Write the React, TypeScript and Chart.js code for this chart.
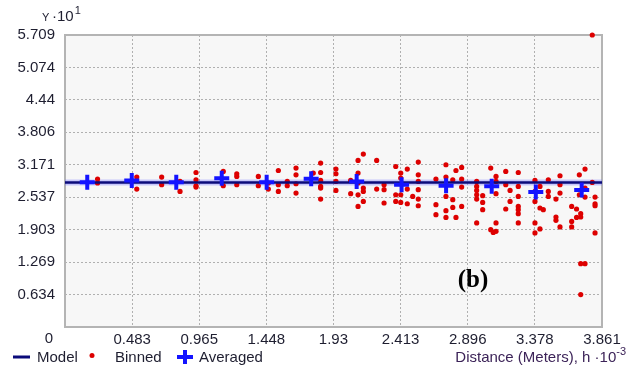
import React, { useEffect, useRef } from 'react';
import { Chart, registerables } from 'chart.js';

Chart.register(...registerables);

const xTicks = [0, 0.483, 0.965, 1.448, 1.93, 2.413, 2.896, 3.378, 3.861];
const yTicks = [0, 0.634, 1.269, 1.903, 2.537, 3.171, 3.806, 4.44, 5.074, 5.709];

const modelX = [0, 3.861];
const modelY = [2.825, 2.825];

const averagedX = [0.16, 0.48, 0.8, 1.127, 1.45, 1.77, 2.097, 2.42, 2.74, 3.068, 3.385, 3.715];
const averagedY = [2.83, 2.865, 2.83, 2.91, 2.83, 2.9, 2.846, 2.78, 2.76, 2.75, 2.64, 2.68];

const binnedX = [
  0.234, 0.516, 0.695, 0.827, 0.942, 1.138, 1.235, 1.39, 1.462, 1.534, 1.598, 1.661, 1.785,
  1.838, 1.948, 2.054, 2.107, 2.145, 2.241, 2.294, 2.378, 2.414, 2.461, 2.5, 2.54, 2.667,
  2.739, 2.788, 2.811, 2.852, 2.96, 3.003, 3.061, 3.079, 3.099, 3.169, 3.2, 3.259, 3.379,
  3.415, 3.439, 3.475, 3.53, 3.559, 3.643, 3.678, 3.698, 3.708, 3.739, 3.791, 3.811,
];
const binnedY = [
  [2.893, 2.815],
  [2.932, 2.697],
  [2.932, 2.781],
  [2.846, 2.651],
  [3.021, 2.879, 2.762, 2.736],
  [3.041, 2.762],
  [2.996, 2.943, 2.781],
  [2.943, 2.762],
  [2.815, 2.697],
  [3.06, 2.781, 2.651],
  [2.846, 2.762],
  [3.107, 2.976, 2.801, 2.619],
  [3.01],
  [3.205, 3.021, 2.865, 2.748, 2.717, 2.502],
  [3.088, 2.996, 2.846, 2.67],
  [2.865, 2.606],
  [3.256, 3.01, 2.815, 2.586, 2.358],
  [3.381, 2.717, 2.651, 2.455],
  [3.256, 2.697],
  [2.781, 2.684, 2.424],
  [3.138, 2.586, 2.455],
  [3.01, 2.912, 2.586, 2.436],
  [3.088, 2.697, 2.41],
  [2.553],
  [3.224, 2.976, 2.846, 2.684, 2.502, 2.371],
  [2.893, 2.391, 2.196],
  [3.172, 2.932, 2.553, 2.274, 2.143],
  [2.879, 2.489, 2.338],
  [3.06, 2.143],
  [3.119, 2.893, 2.736, 2.358],
  [2.846, 2.748, 2.67, 2.586, 2.502, 2.034],
  [2.567, 2.436, 2.293],
  [3.107, 1.903],
  [1.85],
  [2.943, 2.846, 2.606, 2.034, 1.87],
  [3.041, 2.781, 2.307],
  [2.67, 2.455],
  [3.021, 2.748, 2.553, 2.358, 2.293, 2.215, 2.034],
  [2.865, 2.651, 2.455, 2.034, 1.839],
  [2.748, 2.327, 1.917],
  [2.293],
  [2.879, 2.651, 2.553],
  [2.502, 2.151, 2.085],
  [2.957, 2.781, 2.619, 1.956],
  [2.358, 2.065, 1.956],
  [2.307, 2.143],
  [2.976, 2.586],
  [2.215, 2.151, 1.239, 0.634],
  [3.088, 2.717, 2.541, 1.239],
  [2.826, 5.709],
  [2.541, 2.41, 2.371, 1.839],
];

const FONT = '"Liberation Sans", Arial, sans-serif';
const TEXT = '#1e1e30';
const NAVY = '#0b0b7a';
const BLUE = '#1414ff';
const RED = '#dd0000';

const decor = {
  id: 'decor',
  beforeDraw(chart: any) {
    const { ctx, chartArea: a } = chart;
    ctx.save();
    ctx.fillStyle = '#ffffff';
    ctx.fillRect(0, 0, chart.width, chart.height);
    ctx.fillStyle = '#f7f7f7';
    ctx.fillRect(a.left, a.top, a.right - a.left, a.bottom - a.top);
    ctx.restore();
  },
  beforeDatasetsDraw(chart: any) {
    const { ctx, chartArea: a } = chart;
    ctx.save();
    ctx.strokeStyle = '#b4b4b4';
    ctx.lineWidth = 2;
    ctx.strokeRect(a.left, a.top, a.right - a.left, a.bottom - a.top);
    ctx.restore();
  },
  afterDraw(chart: any) {
    const { ctx } = chart;
    ctx.save();
    ctx.fillStyle = TEXT;
    ctx.textBaseline = 'alphabetic';
    // shared zero label
    ctx.font = `15px ${FONT}`;
    ctx.textAlign = 'center';
    ctx.fillText('0', 49, 343);
    // y title
    ctx.textAlign = 'left';
    ctx.font = `11px ${FONT}`;
    ctx.fillText('Y', 42, 21);
    ctx.font = `15px ${FONT}`;
    ctx.fillText('·10', 52, 21);
    const w10 = ctx.measureText('·10').width;
    ctx.font = `11px ${FONT}`;
    ctx.fillText('1', 52 + w10 + 1, 14);
    // legend
    ctx.strokeStyle = NAVY;
    ctx.lineWidth = 3;
    ctx.beginPath();
    ctx.moveTo(13, 357);
    ctx.lineTo(30, 357);
    ctx.stroke();
    ctx.font = `15px ${FONT}`;
    ctx.fillText('Model', 37, 362);
    ctx.fillStyle = RED;
    ctx.beginPath();
    ctx.arc(92, 355.5, 2.5, 0, Math.PI * 2);
    ctx.fill();
    ctx.fillStyle = TEXT;
    ctx.fillText('Binned', 115, 362);
    ctx.strokeStyle = BLUE;
    ctx.lineWidth = 4;
    ctx.beginPath();
    ctx.moveTo(177, 357);
    ctx.lineTo(193, 357);
    ctx.moveTo(185, 350);
    ctx.lineTo(185, 364);
    ctx.stroke();
    ctx.fillText('Averaged', 199, 362);
    // x title
    ctx.font = `11px ${FONT}`;
    const sup = '-3';
    const ws = ctx.measureText(sup).width;
    ctx.fillStyle = '#3c2358';
    ctx.fillText(sup, 626 - ws, 355);
    ctx.font = `15px ${FONT}`;
    ctx.textAlign = 'right';
    ctx.fillText('Distance (Meters), h ·10', 626 - ws, 362);
    // panel tag
    ctx.fillStyle = '#000000';
    ctx.textAlign = 'center';
    ctx.font = `bold 25px "Liberation Serif", "Times New Roman", serif`;
    ctx.fillText('(b)', 473, 287);
    ctx.restore();
  },
};

export default function App() {
  const ref = useRef<HTMLCanvasElement | null>(null);

  useEffect(() => {
    if (!ref.current) return;
    const binnedPoints: { x: number; y: number }[] = [];
    binnedX.forEach((x, i) => binnedY[i].forEach((y) => binnedPoints.push({ x, y })));
    const modelPoints = modelX.map((x, i) => ({ x, y: modelY[i] }));
    const avgPoints = averagedX.map((x, i) => ({ x, y: averagedY[i] }));

    const chart = new Chart(ref.current, {
      type: 'scatter',
      data: {
        datasets: [
          {
            label: 'Averaged',
            data: avgPoints,
            pointStyle: 'cross',
            pointRadius: 7.5,
            pointBorderWidth: 4,
            borderColor: BLUE,
            backgroundColor: BLUE,
            order: 0,
          } as any,
          {
            type: 'line',
            label: 'Model',
            data: modelPoints,
            borderColor: NAVY,
            borderWidth: 2.5,
            pointRadius: 0,
            fill: false,
            order: 1,
          } as any,
          {
            label: 'Binned',
            data: binnedPoints,
            pointRadius: 2.6,
            pointBorderWidth: 0,
            backgroundColor: RED,
            borderColor: RED,
            clip: false,
            order: 2,
          } as any,
          {
            type: 'line',
            label: 'glow',
            data: modelPoints,
            borderColor: 'rgba(110,110,255,0.35)',
            borderWidth: 6,
            pointRadius: 0,
            fill: false,
            order: 3,
          } as any,
        ],
      },
      options: {
        responsive: false,
        animation: false,
        layout: { padding: { left: 0, right: 39, top: 35, bottom: 0 } },
        plugins: { legend: { display: false }, tooltip: { enabled: false } },
        scales: {
          x: {
            type: 'linear',
            min: 0,
            max: 3.861,
            afterBuildTicks: (s: any) => {
              s.ticks = xTicks.map((v) => ({ value: v }));
            },
            afterFit: (s: any) => {
              s.height = 45;
              s.paddingLeft = 0;
              s.paddingRight = 0;
            },
            grid: { color: '#b0b0b0', lineWidth: 1, drawTicks: false },
            border: { display: false, dash: [2, 2] },
            ticks: {
              autoSkip: false,
              maxRotation: 0,
              padding: 4,
              color: TEXT,
              font: { family: FONT, size: 15 },
              callback: (v: any) => (v === 0 ? '' : String(v)),
            },
          },
          y: {
            type: 'linear',
            min: 0,
            max: 5.709,
            afterBuildTicks: (s: any) => {
              s.ticks = yTicks.map((v) => ({ value: v }));
            },
            afterFit: (s: any) => {
              s.width = 65;
              s.paddingTop = 0;
              s.paddingBottom = 0;
            },
            grid: { color: '#b0b0b0', lineWidth: 1, drawTicks: false },
            border: { display: false, dash: [2, 2] },
            ticks: {
              autoSkip: false,
              padding: 10,
              color: TEXT,
              font: { family: FONT, size: 15 },
              callback: (v: any) => (v === 0 ? '' : String(v)),
            },
          },
        },
      },
      plugins: [decor],
    });
    return () => chart.destroy();
  }, []);

  return (
    <div style={{ position: 'fixed', left: 0, top: 0, width: 641, height: 372, background: '#fff' }}>
      <canvas ref={ref} width={641} height={372} style={{ display: 'block', width: 641, height: 372 }} />
    </div>
  );
}
